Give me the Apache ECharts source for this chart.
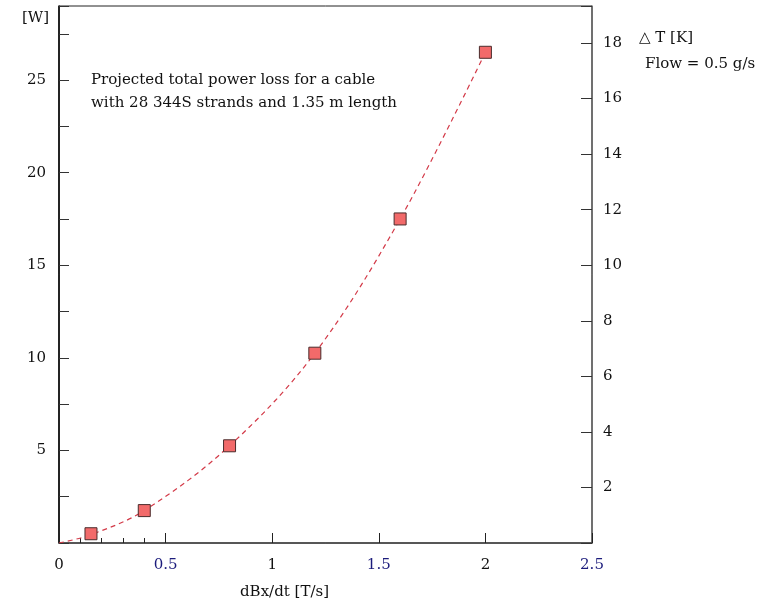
<!DOCTYPE html>
<html>
<head>
<meta charset="utf-8">
<script src="https://cdn.jsdelivr.net/npm/echarts@6/dist/echarts.min.js"></script>
<style>
  html, body {margin: 0; padding: 0; background: #fff;}
  #chart {width: 767px; height: 604px;}
</style>
</head>
<body>
<div id="chart"></div>
<script>
// measured points
const dBdt = [0.15, 0.4, 0.8, 1.2, 1.6, 2.0]
const powerW = [0.5, 1.75, 5.25, 10.25, 17.5, 26.5]
// dashed fit curve, starts at origin
const fitX = [0, 0.15, 0.4, 0.8, 1.2, 1.6, 2.0]
const fitW = [0, 0.45, 1.75, 5.25, 10.25, 17.5, 26.5]
const blueLabels = [0.5, 1.5, 2.5]
const note = ['Projected total power loss for a cable', 'with 28 344S strands and 1.35 m length']

const serif = 'DejaVu Serif, Liberation Serif, serif'
const wMax = 29
const kMax = wMax / 1.5

const myChart = echarts.init(document.getElementById('chart'))

myChart.setOption({
  animation: false,
  textStyle: {fontFamily: serif},
  grid: [
    {left: 59, right: 175, top: 6, bottom: 61, show: true, borderColor: '#222', borderWidth: 1},
    {left: 59, width: 106.6, top: 6, bottom: 61}
  ],
  xAxis: [
    {
      type: 'value', min: 0, max: 2.5, interval: 0.5,
      splitLine: {show: false},
      axisLine: {lineStyle: {color: '#444', width: 1.5}},
      axisTick: {inside: true, length: 10, lineStyle: {color: '#222'}},
      axisLabel: {
        margin: 15, fontSize: 15,
        formatter(v) {
          return blueLabels.indexOf(v) >= 0 ? '{b|' + v + '}' : '{k|' + v + '}'
        },
        rich: {
          b: {color: '#1c1c7c', fontSize: 15, fontFamily: serif},
          k: {color: '#111', fontSize: 15, fontFamily: serif}
        }
      }
    },
    {
      // short minor ticks between 0 and 0.5
      gridIndex: 1, type: 'value', min: 0, max: 0.5, interval: 0.1,
      splitLine: {show: false},
      axisLine: {show: false},
      axisLabel: {show: false},
      axisTick: {inside: true, length: 5, lineStyle: {color: '#222'}}
    }
  ],
  yAxis: [
    {
      type: 'value', min: 0, max: wMax, interval: 2.5,
      splitLine: {show: false},
      axisLine: {show: true, lineStyle: {color: '#000', width: 1.5}},
      axisTick: {inside: true, length: 10, lineStyle: {color: '#333'}},
      axisLabel: {
        margin: 13, fontSize: 15, color: '#111',
        formatter(v) {
          return (v > 0 && v % 5 === 0) ? String(v) : ''
        }
      }
    },
    {
      type: 'value', min: 0, max: kMax, interval: 2, position: 'right',
      splitLine: {show: false},
      axisLine: {show: true, lineStyle: {color: '#666', width: 1.5}},
      axisTick: {inside: true, length: 11, lineStyle: {color: '#333'}},
      axisLabel: {
        margin: 11, fontSize: 15, color: '#111',
        formatter(v) {
          return (v > 0 && v % 2 === 0) ? String(v) : ''
        }
      }
    },
    {gridIndex: 1, type: 'value', min: 0, max: wMax, show: false}
  ],
  series: [
    {
      type: 'line',
      data: fitX.map((x, i) => [x, fitW[i]]),
      smooth: 0.35,
      symbol: 'none',
      lineStyle: {color: '#d33a48', width: 1.2, type: [5, 4]},
      z: 2
    },
    {
      type: 'scatter',
      data: dBdt.map((x, i) => [x, powerW[i]]),
      symbol: 'rect',
      symbolSize: 12,
      itemStyle: {color: '#f26a6a', borderColor: '#4a2c2c', borderWidth: 1, opacity: 1},
      z: 3
    }
  ],
  graphic: [
    {type: 'text', left: 22, top: 11, style: {text: '[W]', font: '15px ' + serif, fill: '#111'}},
    {type: 'text', left: 91, top: 69, style: {text: note.join('\n'), font: '15px ' + serif, fill: '#111', lineHeight: 23}},
    {type: 'text', left: 639, top: 31, style: {text: '\u25B3 T [K]', font: '15px ' + serif, fill: '#111'}},
    {type: 'text', left: 645, top: 57, style: {text: 'Flow = 0.5 g/s', font: '15px ' + serif, fill: '#111'}},
    {type: 'text', left: 240, top: 585, style: {text: 'dBx/dt [T/s]', font: '15px ' + serif, fill: '#111'}}
  ]
})
</script>
</body>
</html>
